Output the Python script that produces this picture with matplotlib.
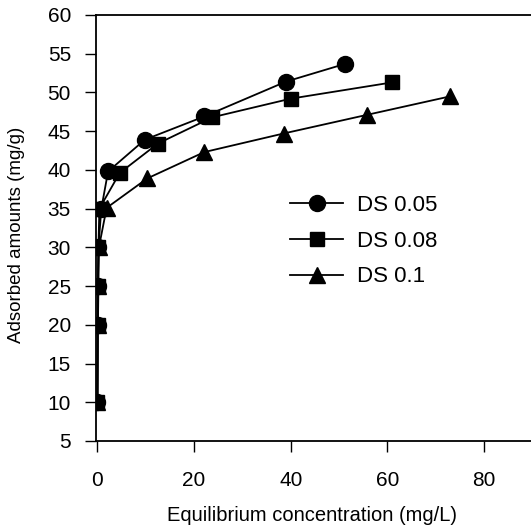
import matplotlib
matplotlib.use("Agg")
import matplotlib.pyplot as plt

plt.rcParams['font.family'] = ['Liberation Sans', 'DejaVu Sans']

# Data
ds005_x = [0.0, 0.05, 0.1, 0.2, 0.8, 2.2, 9.8, 22.1, 39.0, 51.3]
ds005_y = [10, 20, 25, 30, 35, 39.8, 43.9, 46.9, 51.4, 53.7]
ds008_x = [0.0, 0.05, 0.1, 0.2, 0.4, 4.6, 12.5, 23.8, 40.0, 61.0]
ds008_y = [10, 20, 25, 30, 35, 39.6, 43.4, 46.8, 49.2, 51.3]
ds01_x = [0.0, 0.1, 0.2, 0.3, 1.9, 10.3, 22.1, 38.5, 55.7, 73.0]
ds01_y = [10, 20, 25, 30, 35.1, 38.9, 42.3, 44.7, 47.1, 49.5]
labels = ["DS 0.05", "DS 0.08", "DS 0.1"]
x_ticks = [0, 20, 40, 60, 80]
y_ticks = [5, 10, 15, 20, 25, 30, 35, 40, 45, 50, 55, 60]

fig = plt.figure(figsize=(5.31, 5.31), dpi=100)
ax = fig.add_axes([96/531, 1-441/531, 1-96/531, (441-15)/531])

lw = 1.3
ax.plot(ds005_x, ds005_y, '-', color='black', lw=lw, marker='o', ms=11.5, label=labels[0])
ax.plot(ds008_x, ds008_y, '-', color='black', lw=lw, marker='s', ms=10, label=labels[1])
ax.plot(ds01_x, ds01_y, '-', color='black', lw=lw, marker='^', ms=12, label=labels[2])

ax.set_xlim(-0.3, 89.7)
ax.set_ylim(5, 60)
ax.set_xticks(x_ticks)
ax.set_yticks(y_ticks)
ax.tick_params(direction='out', length=8, width=1.0, labelsize=15, colors='black')
ax.tick_params(axis='y', pad=10)
ax.tick_params(axis='x', pad=13.5)
ax.spines['right'].set_visible(False)
for s in ['left', 'top', 'bottom']:
    ax.spines[s].set_linewidth(1.3)

ax.set_xlabel("Equilibrium concentration (mg/L)", fontsize=14.5)
ax.set_ylabel("Adsorbed amounts (mg/g)", fontsize=13.5)
ax.xaxis.set_label_coords((312 - 96) / 435, (441 - 506) / 426, transform=ax.transAxes)
ax.yaxis.set_label_coords((25 - 96) / 435, (441 - 235) / 426, transform=ax.transAxes)

leg = ax.legend(loc='upper left', bbox_to_anchor=(290/531, 1-195/531),
                bbox_transform=fig.transFigure, frameon=False, fontsize=16,
                handlelength=2.4, handletextpad=0.6, labelspacing=0.66,
                borderpad=0, borderaxespad=0)

fig.savefig("out.png", dpi=100)
